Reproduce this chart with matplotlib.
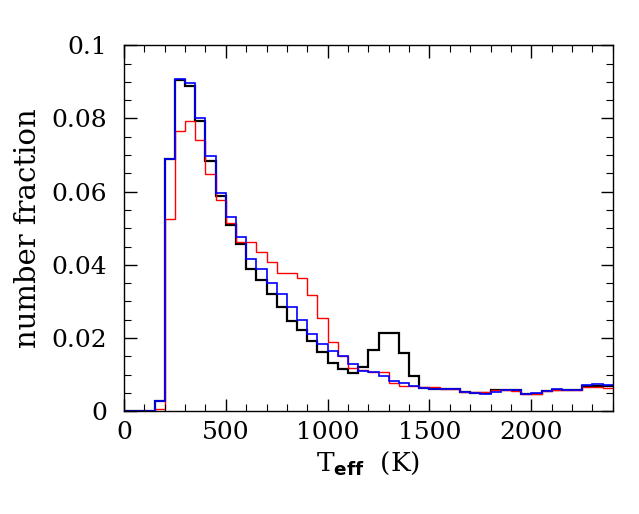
import matplotlib
matplotlib.use("Agg")
import matplotlib.pyplot as plt
import numpy as np
from matplotlib.ticker import MultipleLocator

# bin edges in K (50 K bins from 0 to 2400)
edges = np.arange(0, 2401, 50)

frac_black = [0, 0, 0, 0.0027, 0.0688, 0.0905, 0.0888, 0.0792, 0.0684, 0.0588,
              0.0510, 0.0458, 0.0388, 0.0358, 0.0319, 0.0284, 0.0247, 0.0222, 0.0192, 0.0161,
              0.0133, 0.0115, 0.0105, 0.0122, 0.0167, 0.0213, 0.0213, 0.0160, 0.0095, 0.0063,
              0.0062, 0.0062, 0.0060, 0.0053, 0.0050, 0.0050, 0.0059, 0.0059, 0.0057, 0.0046,
              0.0048, 0.0055, 0.0059, 0.0057, 0.0059, 0.0069, 0.0070, 0.0069]
frac_blue = [0, 0, 0, 0.0028, 0.0688, 0.0907, 0.0897, 0.0801, 0.0697, 0.0597,
             0.0532, 0.0477, 0.0417, 0.0388, 0.0351, 0.0320, 0.0285, 0.0249, 0.0211, 0.0184,
             0.0165, 0.0151, 0.0129, 0.0110, 0.0106, 0.0097, 0.0083, 0.0078, 0.0070, 0.0063,
             0.0062, 0.0062, 0.0060, 0.0053, 0.0050, 0.0047, 0.0053, 0.0058, 0.0058, 0.0046,
             0.0050, 0.0054, 0.0061, 0.0058, 0.0059, 0.0071, 0.0075, 0.0071]
frac_red = [0, 0, 0, 0.0005, 0.0525, 0.0766, 0.0793, 0.0740, 0.0647, 0.0578,
            0.0513, 0.0463, 0.0463, 0.0435, 0.0407, 0.0377, 0.0377, 0.0363, 0.0317, 0.0254,
            0.0190, 0.0152, 0.0119, 0.0113, 0.0108, 0.0106, 0.0078, 0.0069, 0.0070, 0.0066,
            0.0065, 0.0062, 0.0060, 0.0053, 0.0053, 0.0053, 0.0059, 0.0059, 0.0055, 0.0046,
            0.0046, 0.0055, 0.0058, 0.0057, 0.0059, 0.0067, 0.0066, 0.0063]

xticks = [0, 500, 1000, 1500, 2000]
yticks = [0, 0.02, 0.04, 0.06, 0.08, 0.1]
ytick_labels = ["0", "0.02", "0.04", "0.06", "0.08", "0.1"]

plt.rcParams.update({'font.size': 18, 'font.family': 'DejaVu Serif',
                     'mathtext.fontset': 'custom', 'mathtext.rm': 'DejaVu Serif',
                     'mathtext.bf': 'DejaVu Sans:bold'})

fig = plt.figure(figsize=(6.39, 5.14), dpi=100)
ax = fig.add_axes([0.194, 0.200, 0.765, 0.712])

ax.stairs(frac_black, edges, baseline=None, color="black", lw=1.6)
ax.stairs(frac_red, edges, baseline=None, color="red", lw=1.0)
ax.stairs(frac_blue, edges, baseline=None, color="blue", lw=1.2)

ax.set_xlim(0, 2400)
ax.set_ylim(0, 0.1)
ax.set_xticks(xticks)
ax.set_yticks(yticks)
ax.set_yticklabels(ytick_labels)
ax.xaxis.set_minor_locator(MultipleLocator(100))
ax.yaxis.set_minor_locator(MultipleLocator(0.005))
ax.tick_params(which="both", direction="in", top=True, right=True)
ax.tick_params(which="major", length=9, width=1.0)
ax.tick_params(axis="x", which="major", pad=7)
ax.tick_params(axis="y", which="major", pad=12)
ax.tick_params(which="minor", length=5, width=0.8)
for s in ax.spines.values():
    s.set_linewidth(1.0)

ax.set_xlabel(r"T$_{\bf eff}$  (K)", labelpad=4, fontsize=19)
ax.set_ylabel("number fraction", labelpad=7, fontsize=21)

plt.savefig("out.png", dpi=100)
